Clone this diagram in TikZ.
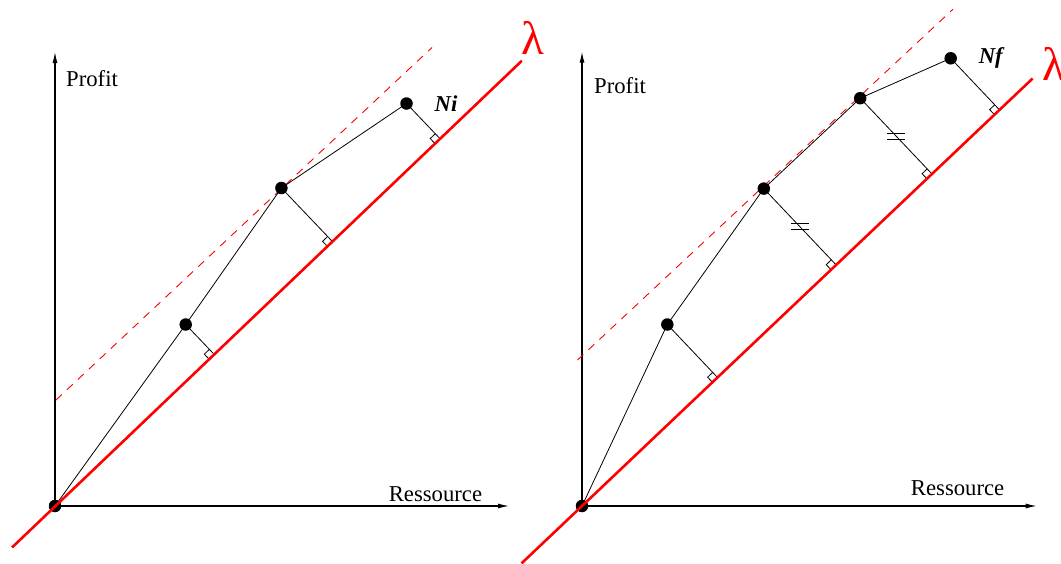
\documentclass[tikz,border=0pt]{standalone}
\usepackage{fontspec}
\setmainfont{Liberation Serif}
\usetikzlibrary{calc,arrows.meta}
\tikzset{
  dot/.style={circle,fill=black,inner sep=0pt,minimum size=12.5pt},
  axis/.style={line width=1.1pt,-{Latex[length=11pt,width=5pt]}},
  redline/.style={red,line width=2.6pt},
  guide/.style={red,line width=0.9pt,dash pattern=on 8pt off 7pt},
  link/.style={line width=0.8pt},
  lab/.style={font=\fontsize{22.7}{27}\selectfont,inner sep=0pt},
  lam/.style={red,font=\fontsize{47}{50}\selectfont,inner sep=0pt},
}
\newcommand{\rmark}[3]{%
  \coordinate (ma) at ($(#1)!7pt!(#2)$);
  \coordinate (mb) at ($(#1)!7pt!(#3)$);
  \draw[link] (ma) -- ($(ma)+(mb)-(#1)$) -- (mb);}
\newcommand{\eqmark}[2]{%
  \coordinate (mm) at ($(#1)!0.5!(#2)$);
  \draw[link] ($(mm)+(-9,-2.9)$) -- ++(18,0);
  \draw[link] ($(mm)+(-9,2.9)$) -- ++(18,0);}
\begin{document}
\begin{tikzpicture}[x=1pt,y=-1pt]
\useasboundingbox (0,0) rectangle (1061,563);
\clip (0,0) rectangle (1061,563);
% ---------------- left panel ----------------
\coordinate (lo) at (55,506);
\coordinate (ly) at (55,52);
\coordinate (lx) at (509,506);
\coordinate (l1) at (12.1,547.4);
\coordinate (l2) at (521.8,60.8);
\coordinate (ld1) at (56,400);
\coordinate (ld2) at (432,47.5);
\coordinate (p1) at (185.7,324.5);
\coordinate (p2) at (281.4,188);
\coordinate (p3) at (406.5,103.5);
\draw[axis] (lo) -- (ly);
\draw[axis] (lo) -- (lx);
\draw[guide] (ld1) -- (ld2);
\coordinate (f1) at ($(l1)!(p1)!(l2)$);
\coordinate (f2) at ($(l1)!(p2)!(l2)$);
\coordinate (f3) at ($(l1)!(p3)!(l2)$);
\draw[link] (lo) -- (p1) -- (p2) -- (p3);
\draw[link] (p1) -- (f1);
\draw[link] (p2) -- (f2);
\draw[link] (p3) -- (f3);
\rmark{f1}{l1}{p1}
\rmark{f2}{l1}{p2}
\rmark{f3}{l1}{p3}
\node[dot] (n0) at (lo) {};
\node[dot] (n1) at (p1) {};
\node[dot] (n2) at (p2) {};
\node[dot] (n3) at (p3) {};
\draw[redline] (l1) -- (l2);
\node[lab,anchor=west] (lprofit) at (66,79) {Profit};
\node[lab] (lres) at (435.5,494.5) {Ressource};
\node[lab] (ni) at (446,103.3) {\textbf{\textit{Ni}}};
\node[lam] (llam) at (533,37.5) {λ};
% ---------------- right panel ----------------
\coordinate (ro) at (582,506);
\coordinate (ry) at (582,51.7);
\coordinate (rx) at (1036.7,506);
\coordinate (r1) at (521.5,563.4);
\coordinate (r2) at (1032.6,78.5);
\coordinate (rd1) at (577.5,360);
\coordinate (rd2) at (953,9.2);
\coordinate (q1) at (667.3,324.5);
\coordinate (q2) at (763.8,188.6);
\coordinate (q3) at (860.2,98.2);
\coordinate (q4) at (950.7,58.3);
\draw[axis] (ro) -- (ry);
\draw[axis] (ro) -- (rx);
\draw[guide] (rd1) -- (rd2);
\coordinate (g1) at ($(r1)!(q1)!(r2)$);
\coordinate (g2) at ($(r1)!(q2)!(r2)$);
\coordinate (g3) at ($(r1)!(q3)!(r2)$);
\coordinate (g4) at ($(r1)!(q4)!(r2)$);
\draw[link] (ro) -- (q1) -- (q2) -- (q3) -- (q4);
\draw[link] (q1) -- (g1);
\draw[link] (q2) -- (g2);
\draw[link] (q3) -- (g3);
\draw[link] (q4) -- (g4);
\rmark{g1}{r1}{q1}
\rmark{g2}{r1}{q2}
\rmark{g3}{r1}{q3}
\rmark{g4}{r1}{q4}
\eqmark{q2}{g2}
\eqmark{q3}{g3}
\node[dot] (m0) at (ro) {};
\node[dot] (m1) at (q1) {};
\node[dot] (m2) at (q2) {};
\node[dot] (m3) at (q3) {};
\node[dot] (m4) at (q4) {};
\draw[redline] (r1) -- (r2);
\node[lab,anchor=west] (rprofit) at (594,86) {Profit};
\node[lab] (rres) at (957.6,488) {Ressource};
\node[lab] (nf) at (991.7,58.3) {\textbf{\textit{Nf}}};
\node[lam] (rlam) at (1054,64) {λ};
\end{tikzpicture}
\end{document}
